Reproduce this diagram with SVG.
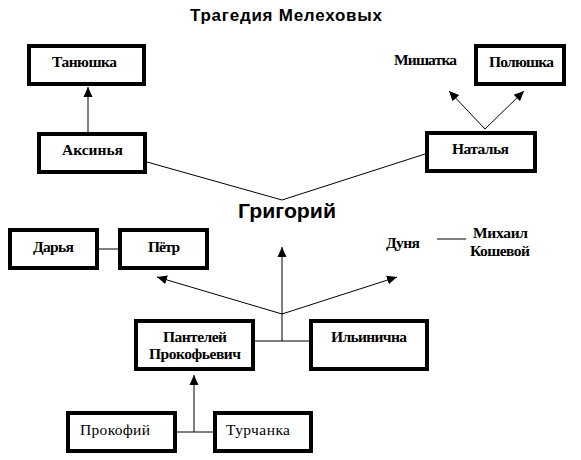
<svg xmlns="http://www.w3.org/2000/svg" width="581" height="460" viewBox="0 0 581 460">
<style>
.box{fill:#fff;stroke:#000;stroke-width:4}
.t{font-family:"Liberation Serif","Times New Roman",serif;font-size:15.5px;font-weight:bold;fill:#000}
.r{font-weight:normal}
.h{font-family:"Liberation Sans",Arial,sans-serif;font-weight:bold;fill:#000}
.c{fill:none;stroke:#000;stroke-width:1}
</style>
<defs>
<marker id="ah" markerUnits="userSpaceOnUse" markerWidth="11" markerHeight="10" refX="10" refY="5" orient="auto">
<path d="M0,0.5 L10,5 L0,9.5 z" fill="#000"/>
</marker>
</defs>
<rect width="581" height="460" fill="#fff"/>
<text class="h" x="190" y="21" font-size="17" textLength="192" lengthAdjust="spacing">Трагедия Мелеховых</text>
<g id="connectors">
<line class="c" x1="88" y1="132" x2="88" y2="87" marker-end="url(#ah)"/>
<line class="c" x1="485" y1="129" x2="449" y2="91" marker-end="url(#ah)"/>
<line class="c" x1="485" y1="129" x2="524" y2="91" marker-end="url(#ah)"/>
<polyline class="c" points="147,162 282,200 425,154"/>
<line class="c" x1="282" y1="341" x2="282" y2="247" marker-end="url(#ah)"/>
<line class="c" x1="282" y1="314" x2="157" y2="277" marker-end="url(#ah)"/>
<line class="c" x1="282" y1="314" x2="397" y2="277" marker-end="url(#ah)"/>
<line class="c" x1="255" y1="341" x2="309" y2="341"/>
<line class="c" x1="99" y1="249" x2="118" y2="249"/>
<line class="c" x1="437" y1="239" x2="466" y2="239"/>
<line class="c" x1="177" y1="432" x2="213" y2="432"/>
<line class="c" x1="194" y1="432" x2="194" y2="375" marker-end="url(#ah)"/>
</g>
<g id="tanyushka"><rect class="box" x="29" y="46" width="115" height="38"/><text class="t" x="52" y="67" textLength="65" lengthAdjust="spacing">Танюшка</text></g>
<g id="aksinya"><rect class="box" x="39" y="134" width="106" height="38"/><text class="t" x="62" y="155" textLength="61" lengthAdjust="spacing">Аксинья</text></g>
<g id="mishatka"><text class="t" x="394" y="65" textLength="63" lengthAdjust="spacing">Мишатка</text></g>
<g id="polyushka"><rect class="box" x="476" y="46" width="88" height="38"/><text class="t" x="489" y="67" textLength="65" lengthAdjust="spacing">Полюшка</text></g>
<g id="natalya"><rect class="box" x="427" y="133" width="108" height="38"/><text class="t" x="452" y="154" textLength="57" lengthAdjust="spacing">Наталья</text></g>
<g id="grigoriy"><text class="h" x="238" y="218" font-size="20" textLength="98" lengthAdjust="spacingAndGlyphs">Григорий</text></g>
<g id="darya"><rect class="box" x="10" y="230" width="87" height="38"/><text class="t" x="33" y="252" textLength="41" lengthAdjust="spacing">Дарья</text></g>
<g id="petr"><rect class="box" x="120" y="230" width="87" height="38"/><text class="t" x="148" y="252" textLength="32" lengthAdjust="spacing">Пётр</text></g>
<g id="dunya"><text class="t" x="386" y="248" textLength="34" lengthAdjust="spacing">Дуня</text></g>
<g id="mikhail"><text class="t" x="473" y="238" textLength="55" lengthAdjust="spacing">Михаил</text><text class="t" x="470" y="256" textLength="60" lengthAdjust="spacing">Кошевой</text></g>
<g id="panteley"><rect class="box" x="136" y="321" width="117" height="48"/><text class="t" x="163" y="342" textLength="64" lengthAdjust="spacing">Пантелей</text><text class="t" x="149" y="359" textLength="92" lengthAdjust="spacing">Прокофьевич</text></g>
<g id="ilyinichna"><rect class="box" x="311" y="321" width="116" height="48"/><text class="t" x="331" y="342" textLength="76" lengthAdjust="spacing">Ильинична</text></g>
<g id="prokofiy"><rect class="box" x="68" y="413" width="107" height="38"/><text class="t r" x="80" y="435" textLength="70" lengthAdjust="spacing">Прокофий</text></g>
<g id="turchanka"><rect class="box" x="215" y="413" width="96" height="38"/><text class="t r" x="226" y="435" textLength="64" lengthAdjust="spacing">Турчанка</text></g>
</svg>
